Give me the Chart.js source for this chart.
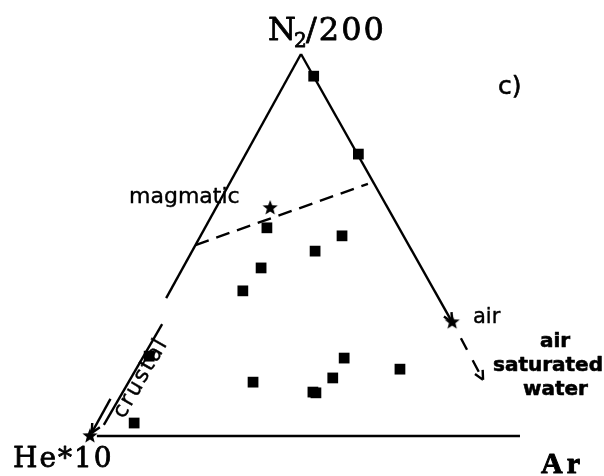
<!DOCTYPE html>
<html>
<head>
<meta charset="utf-8">
<script src="https://cdn.jsdelivr.net/npm/chart.js@4"></script>
<style>
  html, body { margin: 0; padding: 0; background: #fff; }
  #wrap { width: 604px; height: 476px; }
</style>
</head>
<body>
<div id="wrap"><canvas id="c" width="604" height="476"></canvas></div>
<script>
// ternary compositions (%) : He*10, N2/200, Ar
const sampleHe = [0, 0, 31.1, 23.0, 14.7, 37.8, 45.1, 75.6, 88.0, 54.9, 42.3, 41.7, 35.8, 30.5, 19.0];
const sampleN2 = [94.2, 73.8, 54.5, 48.4, 52.4, 44.0, 38.0, 20.9, 3.4, 14.1, 11.5, 11.3, 15.2, 20.4, 17.5];
const sampleAr = [5.8, 26.2, 14.4, 28.6, 32.9, 18.2, 16.9, 3.5, 8.6, 31.0, 46.2, 47.0, 49.0, 49.1, 63.5];

// end members: crustal, magmatic, air
const endHe = [100, 27.7, 0.6];
const endN2 = [0, 59.7, 29.8];
const endAr = [0, 12.6, 69.6];

// guide lines [He, N2, Ar]
const leftEdge     = [[0, 100, 0], [63.9, 36.1, 0]];
const baseEdge     = [[98.4, 0, 1.6], [0, 0, 100]];
const rightEdge    = [[0, 100, 0], [0.6, 29.8, 69.6]];
const aswLine      = [[0.7, 25.6, 73.7], [1.1, 14.7, 84.2]];
const magmaticLine = [[50.0, 50.0, 0], [1.75, 66.0, 32.25]];
const crustalLine  = [[68.3, 29.3, 2.4], [95.3, 2.9, 1.8]];
const crustalArrow = [[90.3, 9.7, 0], [99.2, 0.8, 0]];

const SKEW = 0.4907; // apex sits a little left of the base midpoint in the original
function tern(he, n2, ar) {
  const s = he + n2 + ar;
  return { x: 100 * (ar + SKEW * n2) / s, y: 100 * n2 / s };
}

function lineSet(pts, dash, arrow) {
  return {
    data: pts.map(p => tern(p[0], p[1], p[2])),
    showLine: true,
    borderColor: '#000',
    borderWidth: 2.4,
    borderDash: dash || [],
    pointRadius: 0,
    arrow: !!arrow,
  };
}

// filled five-point star marker
const star = document.createElement('canvas');
star.width = star.height = 18;
(function () {
  const g = star.getContext('2d');
  g.fillStyle = '#000';
  g.beginPath();
  for (let i = 0; i < 10; i++) {
    const r = i % 2 ? 3.4 : 8;
    const a = -Math.PI / 2 + i * Math.PI / 5;
    g.lineTo(9 + r * Math.cos(a), 9 + r * Math.sin(a));
  }
  g.closePath();
  g.fill();
})();

const arrowPlugin = {
  id: 'arrows',
  afterDatasetsDraw(chart) {
    const ctx = chart.ctx;
    chart.data.datasets.forEach((ds, i) => {
      if (!ds.arrow) return;
      const pts = chart.getDatasetMeta(i).data;
      const a = pts[pts.length - 2], b = pts[pts.length - 1];
      const ang = Math.atan2(b.y - a.y, b.x - a.x);
      ctx.save();
      ctx.strokeStyle = '#000';
      ctx.lineWidth = 2.4;
      ctx.beginPath();
      [0.45, -0.45].forEach(d => {
        ctx.moveTo(b.x, b.y);
        ctx.lineTo(b.x - 10 * Math.cos(ang + d), b.y - 10 * Math.sin(ang + d));
      });
      ctx.stroke();
      ctx.restore();
    });
  }
};

function heavyText(ctx, txt, x, y, w) {
  ctx.lineWidth = w;
  ctx.strokeText(txt, x, y);
  ctx.fillText(txt, x, y);
}

const labelPlugin = {
  id: 'labels',
  afterDraw(chart) {
    const ctx = chart.ctx;
    ctx.save();
    ctx.fillStyle = '#000';
    ctx.strokeStyle = '#000';
    ctx.lineJoin = 'round';
    ctx.textBaseline = 'alphabetic';

    ctx.font = '32px "DejaVu Serif"';
    heavyText(ctx, 'N', 268, 40, 0.8);
    ctx.font = '20px "DejaVu Serif"';
    heavyText(ctx, '2', 294, 47, 0.8);
    ctx.font = '32px "DejaVu Serif"';
    ctx.letterSpacing = '2px';
    heavyText(ctx, '/200', 306, 40, 0.8);

    ctx.font = '28px "DejaVu Serif"';
    heavyText(ctx, 'He*10', 13, 467, 0.8);

    ctx.font = 'bold 30px "Liberation Serif"';
    ctx.letterSpacing = '4px';
    heavyText(ctx, 'Ar', 541, 473, 1);
    ctx.letterSpacing = '0px';

    ctx.font = '25px "DejaVu Sans"';
    heavyText(ctx, 'c)', 498, 94, 0.6);

    ctx.font = '22px "DejaVu Sans"';
    heavyText(ctx, 'magmatic', 129, 203, 0.4);
    ctx.font = '21px "DejaVu Sans"';
    heavyText(ctx, 'air', 473, 323, 0.4);

    ctx.font = 'bold 20px "DejaVu Sans"';
    heavyText(ctx, 'air', 540, 347, 0.6);
    heavyText(ctx, 'saturated', 493, 371, 0.6);
    heavyText(ctx, 'water', 523, 395, 0.6);

    ctx.save();
    ctx.translate(146, 381);
    ctx.rotate(-60 * Math.PI / 180);
    ctx.font = '22px "DejaVu Sans"';
    ctx.letterSpacing = '2px';
    ctx.textAlign = 'center';
    heavyText(ctx, 'crustal', 0, 0, 0.4);
    ctx.restore();

    ctx.restore();
  }
};

new Chart(document.getElementById('c').getContext('2d'), {
  type: 'scatter',
  data: {
    datasets: [
      lineSet(leftEdge),
      lineSet(baseEdge),
      lineSet(rightEdge, null, true),
      lineSet(aswLine, [13, 12], true),
      lineSet(magmaticLine, [14, 8]),
      lineSet(crustalLine),
      lineSet(crustalArrow, null, true),
      {
        label: 'samples',
        data: sampleHe.map((h, i) => tern(h, sampleN2[i], sampleAr[i])),
        pointStyle: 'rect',
        pointRadius: 7.6,
        backgroundColor: '#000',
        borderColor: '#000',
        borderWidth: 0,
      },
      {
        label: 'end members',
        data: endHe.map((h, i) => tern(h, endN2[i], endAr[i])),
        pointStyle: star,
        pointRadius: 8,
      },
    ],
  },
  options: {
    responsive: false,
    animation: false,
    layout: { padding: 0, autoPadding: false },
    plugins: { legend: { display: false }, tooltip: { enabled: false } },
    scales: {
      x: { type: 'linear', display: false, min: -20.93, max: 119.54, bounds: 'data' },
      y: { type: 'linear', display: false, min: -10.47, max: 114.14, bounds: 'data' },
    },
  },
  plugins: [arrowPlugin, labelPlugin],
});
</script>
</body>
</html>
